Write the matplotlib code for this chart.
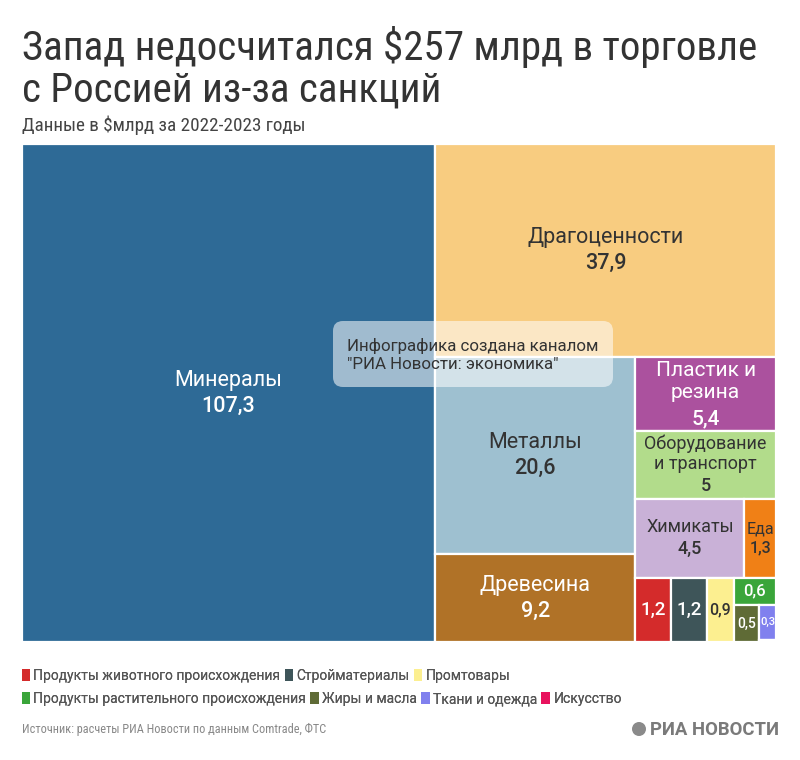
import matplotlib
matplotlib.use("Agg")
import matplotlib.pyplot as plt
from matplotlib import font_manager
from matplotlib.patches import Rectangle, FancyBboxPatch, Patch, Circle

# ---------------- data ----------------
names = ["Минералы", "Драгоценности", "Металлы", "Древесина", "Пластик и резина",
         "Оборудование и транспорт", "Химикаты", "Еда",
         "Продукты животного происхождения", "Стройматериалы", "Промтовары",
         "Продукты растительного происхождения", "Жиры и масла", "Ткани и одежда",
         "Искусство"]
values = [107.3, 37.9, 20.6, 9.2, 5.4, 5.0, 4.5, 1.3, 1.2, 1.2, 0.9, 0.6, 0.5, 0.3, 0.02]
cell_names = ["Минералы", "Драгоценности", "Металлы", "Древесина", "Пластик и\nрезина",
              "Оборудование\nи транспорт", "Химикаты", "Еда",
              "", "", "", "", "", "", ""]
show_value = [True] * 14 + [False]
legend_row1 = [8, 9, 10]
legend_row2 = [11, 12, 13, 14]

title_line1 = "Запад недосчитался $257 млрд в торговле"
title_line2 = "с Россией из-за санкций"
subtitle = "Данные в $млрд за 2022-2023 годы"
source = "Источник: расчеты РИА Новости по данным Comtrade, ФТС"
watermark = "Инфографика создана каналом\n\"РИА Новости: экономика\""

# ---------------- style ----------------
colors = ["#2e6a96", "#f8cc80", "#9ec0d0", "#b07227", "#ab519e", "#b2dc8b",
          "#c9b1d7", "#f08016", "#d42b2b", "#3e5559", "#fcef90", "#3aa53a",
          "#5f6b36", "#8080ee", "#e8125e"]
text_colors = ["white", "#333333", "#333333", "white", "white", "#333333",
               "#333333", "#333333", "white", "white", "#333333", "white",
               "white", "white", "white"]
font_sizes = [15.5, 15.5, 15.5, 15.5, 15, 13, 13, 11.5, 13.5, 13.5, 11.5, 12, 10, 8, 6]

avail = {f.name for f in font_manager.fontManager.ttflist}
base_font = "Roboto" if "Roboto" in avail else "DejaVu Sans"
cond_font = base_font
for cand in ["Roboto Condensed", "Liberation Sans Narrow", "Arial Narrow"]:
    if cand in avail:
        cond_font = cand
        break
plt.rcParams["font.family"] = [base_font, "DejaVu Sans"]

W, H = 754.0, 498.0


def binary_treemap(vals, x0, y0, x1, y1):
    """d3.treemapBinary layout."""
    n = len(vals)
    sums = [0.0]
    for v in vals:
        sums.append(sums[-1] + v)
    rects = [None] * n

    def part(i, j, value, x0, y0, x1, y1):
        if i >= j - 1:
            rects[i] = (x0, y0, x1, y1)
            return
        off = sums[i]
        target = value / 2 + off
        k, hi = i + 1, j - 1
        while k < hi:
            mid = (k + hi) >> 1
            if sums[mid] < target:
                k = mid + 1
            else:
                hi = mid
        if (target - sums[k - 1]) < (sums[k] - target) and i + 1 < k:
            k -= 1
        vl = sums[k] - off
        vr = value - vl
        if (x1 - x0) > (y1 - y0):
            xk = (x0 * vr + x1 * vl) / value
            part(i, k, vl, x0, y0, xk, y1)
            part(k, j, vr, xk, y0, x1, y1)
        else:
            yk = (y0 * vr + y1 * vl) / value
            part(i, k, vl, x0, y0, x1, yk)
            part(k, j, vr, x0, yk, x1, y1)

    part(0, n, sums[-1], x0, y0, x1, y1)
    return rects


fig = plt.figure(figsize=(8, 7.6), dpi=100)
fig.patch.set_facecolor("white")
ax = fig.add_axes([22 / 800, 1 - 642 / 760, W / 800, H / 760])
ax.set_xlim(0, W)
ax.set_ylim(H, 0)
ax.axis("off")

rects = binary_treemap(values, 0, 0, W, H)
for idx, (x0, y0, x1, y1) in enumerate(rects):
    ax.add_patch(Rectangle((x0, y0), x1 - x0, y1 - y0, facecolor=colors[idx],
                           edgecolor="white", linewidth=1.6))
    if not show_value[idx]:
        continue
    val = f"{values[idx]:g}".replace(".", ",")
    cx, cy = (x0 + x1) / 2, (y0 + y1) / 2
    fs = font_sizes[idx]
    if cell_names[idx]:
        nlines = cell_names[idx].count("\n") + 1
        lh = fs * 1.2 / 0.72  # line height in pixels (data units == pixels)
        total = (nlines + 1) * lh
        top = cy - total / 2
        ax.text(cx, top + nlines * lh / 2, cell_names[idx], ha="center", va="center",
                fontsize=fs, color=text_colors[idx], linespacing=1.2)
        ax.text(cx, top + nlines * lh + lh / 2, val, ha="center", va="center",
                fontsize=fs, color=text_colors[idx], fontweight="medium")
    else:
        ax.text(cx, cy, val, ha="center", va="center", fontsize=fs,
                color=text_colors[idx], fontweight="medium")

# overlay axes in pixel coordinates
fig_ax = fig.add_axes([0, 0, 1, 1], zorder=5)
fig_ax.set_xlim(0, 800)
fig_ax.set_ylim(760, 0)
fig_ax.axis("off")
fig_ax.add_patch(FancyBboxPatch((333, 321), 280, 66,
                                boxstyle="round,pad=0,rounding_size=10",
                                facecolor="white", alpha=0.55, edgecolor="none"))
fig_ax.text(347, 355, watermark, ha="left", va="center", fontsize=12.2,
            color="#333333", linespacing=1.3)

# titles
fig_ax.text(22, 60, title_line1, fontsize=29.5,
            family=[cond_font, "DejaVu Sans"], color="#333333", va="baseline")
fig_ax.text(22, 101, title_line2, fontsize=29.5,
            family=[cond_font, "DejaVu Sans"], color="#333333", va="baseline")
fig_ax.text(22, 131, subtitle, fontsize=13.8, family=[cond_font, "DejaVu Sans"],
            color="#444444", va="baseline")

# legend
def make_legend(items, ypix):
    handles = [Patch(facecolor=colors[i], edgecolor="none", label=names[i]) for i in items]
    leg = fig.legend(handles=handles, loc="center left",
                     bbox_to_anchor=(16 / 800, 1 - ypix / 760), ncol=len(items),
                     frameon=False, fontsize=10, handlelength=0.6, handleheight=0.9,
                     handletextpad=0.25, columnspacing=0.3, borderaxespad=0,
                     labelcolor="#555555")
    fig.add_artist(leg)

make_legend(legend_row1, 676)
make_legend(legend_row2, 699)

fig_ax.text(22, 733, source, fontsize=8.8, family=[cond_font, "DejaVu Sans"],
            color="#888888", va="baseline")
fig_ax.add_patch(Circle((639, 729), 7, facecolor="#8a8a8a", edgecolor="none"))
fig_ax.text(779, 735, "РИА НОВОСТИ", fontsize=13.3, fontweight="bold",
            color="#7a7a7a", ha="right", va="baseline")

fig.savefig("out.png", dpi=100, facecolor="white")
